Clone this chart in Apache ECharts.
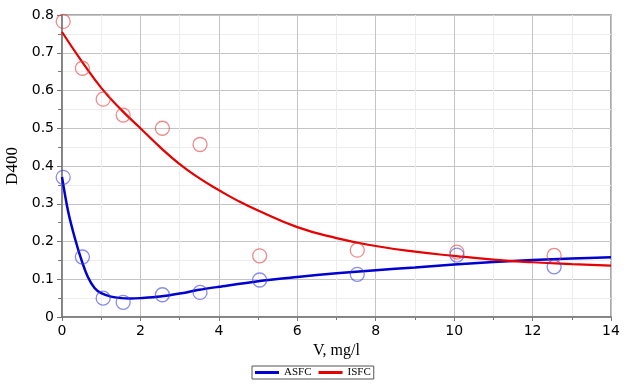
<!DOCTYPE html>
<html>
<head>
<meta charset="utf-8">
<script src="https://cdn.jsdelivr.net/npm/echarts@6/dist/echarts.min.js"></script>
<style>html,body{margin:0;padding:0;background:#fff}#c{width:627px;height:389px}</style>
</head>
<body>
<div id="c"></div>
<script>
// measured points
var pointX = [0.03, 0.52, 1.05, 1.56, 2.56, 3.52, 5.04, 7.53, 10.07, 12.55];
var asfcPoints = [0.370, 0.159, 0.050, 0.039, 0.059, 0.065, 0.098, 0.113, 0.164, 0.133];
var isfcPoints = [0.783, 0.659, 0.577, 0.535, 0.500, 0.457, 0.162, 0.177, 0.172, 0.163];

// fitted curves
var asfcCurveX = [0, 0.15, 0.32, 0.5, 0.66, 0.83, 1.0, 1.25, 1.5, 1.75, 2.0, 2.5, 3.0, 3.5, 4, 5, 6, 7, 8, 9, 10, 11, 12, 13, 14];
var asfcCurveY = [0.371, 0.283, 0.212, 0.150, 0.106, 0.077, 0.063, 0.054, 0.050, 0.049, 0.050, 0.054, 0.062, 0.072, 0.080, 0.095, 0.106, 0.116, 0.124, 0.131, 0.139, 0.146, 0.151, 0.155, 0.158];
var isfcCurveX = [0, 0.5, 1, 1.5, 2, 2.5, 3, 3.5, 4, 4.5, 5, 6, 7, 8, 9, 10, 11, 12, 13, 14];
var isfcCurveY = [0.755, 0.678, 0.607, 0.550, 0.500, 0.450, 0.405, 0.368, 0.336, 0.307, 0.282, 0.238, 0.209, 0.188, 0.173, 0.162, 0.152, 0.145, 0.140, 0.136];

var xTicks = {min: 0, max: 14, interval: 2};
var yTicks = {min: 0, max: 0.8, interval: 0.1};

function pairs(xs, ys) { return xs.map(function (x, i) { return [x, ys[i]]; }); }

var chart = echarts.init(document.getElementById('c'));
var gridLine = {show: true, lineStyle: {color: '#c4c4c4', width: 1}};
var minorLine = {show: true, lineStyle: {color: '#ededed', width: 1}};
chart.setOption({
  animation: false,
  backgroundColor: '#fff',
  grid: {left: 62, right: 16, top: 15, bottom: 72, containLabel: false, outerBoundsMode: 'none',
    show: true, borderColor: '#8c8c8c', borderWidth: 1.5, backgroundColor: 'transparent'},
  legend: {
    data: ['ASFC', 'ISFC'], left: 252, top: 366, orient: 'horizontal',
    icon: 'rect', itemWidth: 24, itemHeight: 3, itemGap: 7,
    borderColor: '#555', borderWidth: 1, padding: [1, 3],
    textStyle: {fontFamily: 'Liberation Serif', fontSize: 11, color: '#000'}
  },
  xAxis: {
    type: 'value', min: xTicks.min, max: xTicks.max, interval: xTicks.interval,
    name: 'V, mg/l', nameLocation: 'middle', nameGap: 24,
    nameTextStyle: {fontFamily: 'Liberation Serif', fontSize: 16, color: '#000'},
    axisLine: {show: true, lineStyle: {color: '#777', width: 1.5}},
    axisTick: {show: true, inside: false, length: 4, lineStyle: {color: '#777'}},
    minorTick: {show: true, splitNumber: 2, length: 3, lineStyle: {color: '#777'}},
    axisLabel: {fontFamily: 'DejaVu Sans', fontSize: 14, color: '#000', margin: 7},
    splitLine: gridLine, minorSplitLine: minorLine
  },
  yAxis: {
    type: 'value', min: yTicks.min, max: yTicks.max, interval: yTicks.interval,
    name: 'D400', nameLocation: 'middle', nameGap: 37, nameRotate: 90,
    nameTextStyle: {fontFamily: 'Liberation Serif', fontSize: 17, color: '#000'},
    axisLine: {show: true, lineStyle: {color: '#777', width: 1.5}},
    axisTick: {show: true, inside: false, length: 5, lineStyle: {color: '#777'}},
    minorTick: {show: true, splitNumber: 2, length: 4, lineStyle: {color: '#777'}},
    axisLabel: {fontFamily: 'DejaVu Sans', fontSize: 14, color: '#000', margin: 8,
      formatter: function (v) { return v === 0 ? '0' : v.toFixed(1); }},
    splitLine: gridLine, minorSplitLine: minorLine
  },
  series: [
    {name: 'ASFC', type: 'line', data: pairs(asfcCurveX, asfcCurveY), smooth: 0.3, showSymbol: false,
      lineStyle: {color: '#0000d0', width: 2.5}, itemStyle: {color: '#0000d0'}, z: 3},
    {name: 'ISFC', type: 'line', data: pairs(isfcCurveX, isfcCurveY), smooth: 0.5, showSymbol: false,
      lineStyle: {color: '#e60000', width: 2.2}, itemStyle: {color: '#e60000'}, z: 3},
    {name: 'ASFC pts', type: 'scatter', data: pairs(pointX, asfcPoints), symbol: 'circle', symbolSize: 14,
      itemStyle: {color: 'transparent', borderColor: 'rgba(60,60,225,0.75)', borderWidth: 1.3}, z: 4},
    {name: 'ISFC pts', type: 'scatter', data: pairs(pointX, isfcPoints), symbol: 'circle', symbolSize: 14,
      itemStyle: {color: 'transparent', borderColor: 'rgba(225,60,60,0.75)', borderWidth: 1.3}, z: 4}
  ]
});
</script>
</body>
</html>
